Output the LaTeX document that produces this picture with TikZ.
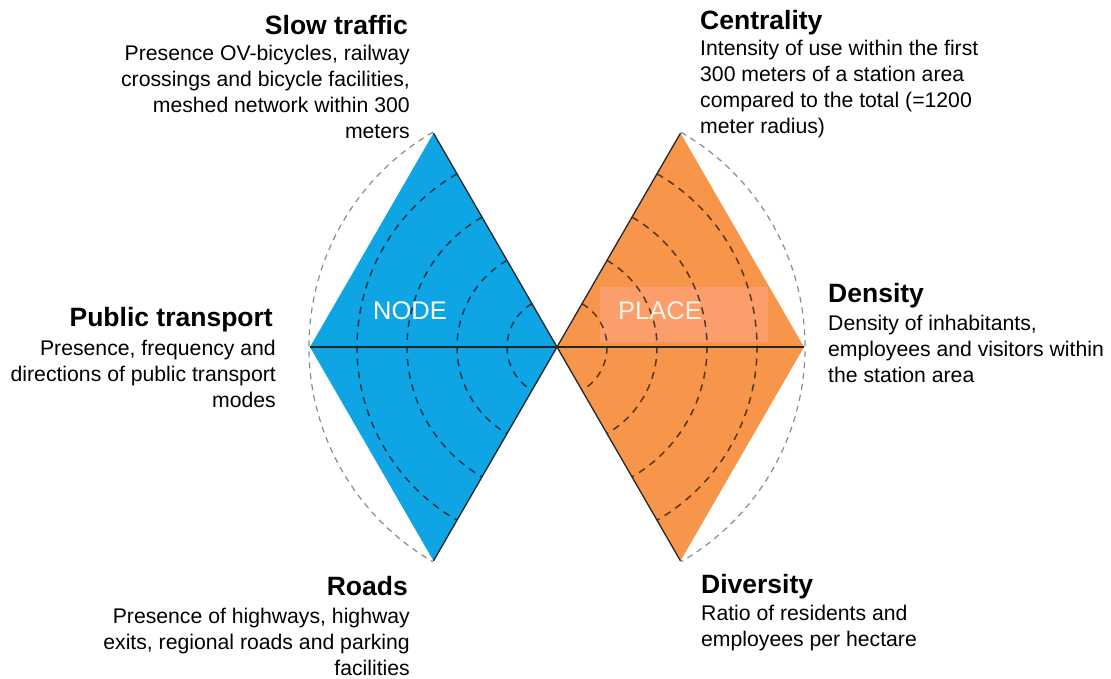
\documentclass[tikz,border=0pt]{standalone}
\usepackage{fontspec}
\setmainfont{Liberation Sans}
\definecolor{nodeblue}{RGB}{15,164,228}
\definecolor{placeorange}{RGB}{247,150,74}
\definecolor{placebox}{RGB}{250,158,108}

\begin{document}
\begin{tikzpicture}[x=1pt, y=1pt, line join=round]
    \tikzstyle{title}=[inner sep=0pt, font=\fontsize{26.5}{30}\selectfont\bfseries]
    \tikzstyle{body}=[inner sep=0pt, font=\fontsize{21.2}{26}\selectfont]
    \tikzstyle{left label}=[align=right]
    \tikzstyle{right label}=[align=left]
    \tikzstyle{ring}=[dashed, dash pattern=on 7pt off 6pt, line width=1.5pt, draw=black, draw opacity=0.65]
    \tikzstyle{outer ring}=[dash pattern=on 6pt off 5pt, line width=1.2pt, draw=gray!90]
    \tikzstyle{edge}=[line width=1.3pt, draw=black!85]
    \tikzstyle{tag}=[inner sep=0pt, font=\fontsize{25.5}{30}\selectfont]

    \useasboundingbox (0,0) rectangle (1111,678);

    % Centre and corners of the two diamonds
    \coordinate (C) at (557,331);
    \coordinate (bt) at ([shift={(120:247)}]C);
    \coordinate (bl) at ([shift={(180:247)}]C);
    \coordinate (bb) at ([shift={(240:247)}]C);
    \coordinate (ot) at ([shift={(60:247)}]C);
    \coordinate (or) at ([shift={(0:247)}]C);
    \coordinate (ob) at ([shift={(-60:247)}]C);

    % Diamonds
    \fill[nodeblue] (C) -- (bt) -- (bl) -- (bb) -- cycle;
    \fill[placeorange] (C) -- (ot) -- (or) -- (ob) -- cycle;
    \fill[placebox] (600,336) rectangle (768,391);

    % Node rings (blue side)
    \draw[ring] ([shift={(120:50)}]C) arc[start angle=120, end angle=240, radius=50];
    \draw[ring] ([shift={(120:100)}]C) arc[start angle=120, end angle=240, radius=100];
    \draw[ring] ([shift={(120:150)}]C) arc[start angle=120, end angle=240, radius=150];
    \draw[ring] ([shift={(120:200)}]C) arc[start angle=120, end angle=240, radius=200];
    \draw[outer ring] ([shift={(120:248)}]C) arc[start angle=120, end angle=240, radius=248];

    % Place rings (orange side)
    \draw[ring] ([shift={(60:50)}]C) arc[start angle=60, end angle=-60, radius=50];
    \draw[ring] ([shift={(60:100)}]C) arc[start angle=60, end angle=-60, radius=100];
    \draw[ring] ([shift={(60:150)}]C) arc[start angle=60, end angle=-60, radius=150];
    \draw[ring] ([shift={(60:200)}]C) arc[start angle=60, end angle=-60, radius=200];
    \draw[outer ring] ([shift={(60:248)}]C) arc[start angle=60, end angle=-60, radius=248];

    % Axes
    \draw[edge] (bl) -- (or);
    \draw[edge] (bt) -- (C) -- (bb);
    \draw[edge] (ot) -- (C) -- (ob);

    % Diamond names
    \node[tag, text=white] (node) at (410,367) {NODE};
    \node[tag, text=white!88!placeorange] (place) at (660,367) {PLACE};

    % Node labels
    \node[title, anchor=base east] (slow) at (408,643) {Slow traffic};
    \node[body, left label, anchor=north east] (slow-text) at (410,633.2)
        {Presence OV-bicycles, railway\\crossings and bicycle facilities,\\meshed network within 300\\meters};
    \node[title, anchor=base east] (public) at (273,351) {Public transport};
    \node[body, left label, anchor=north east] (public-text) at (276,338.2)
        {Presence, frequency and\\directions of public transport\\modes};
    \node[title, anchor=base east] (roads) at (408,83) {Roads};
    \node[body, left label, anchor=north east] (roads-text) at (410,70.2)
        {Presence of highways, highway\\exits, regional roads and parking\\facilities};

    % Place labels
    \node[title, anchor=base west] (centrality) at (700,648) {Centrality};
    \node[body, right label, anchor=north west] (centrality-text) at (700,638.2)
        {Intensity of use within the first\\300 meters of a station area\\compared to the total (=1200\\meter radius)};
    \node[title, anchor=base west] (density) at (828,375) {Density};
    \node[body, right label, anchor=north west] (density-text) at (828,363.2)
        {Density of inhabitants,\\employees and visitors within\\the station area};
    \node[title, anchor=base west] (diversity) at (701,85) {Diversity};
    \node[body, right label, anchor=north west] (diversity-text) at (701,73.2)
        {Ratio of residents and\\employees per hectare};

\end{tikzpicture}
\end{document}
